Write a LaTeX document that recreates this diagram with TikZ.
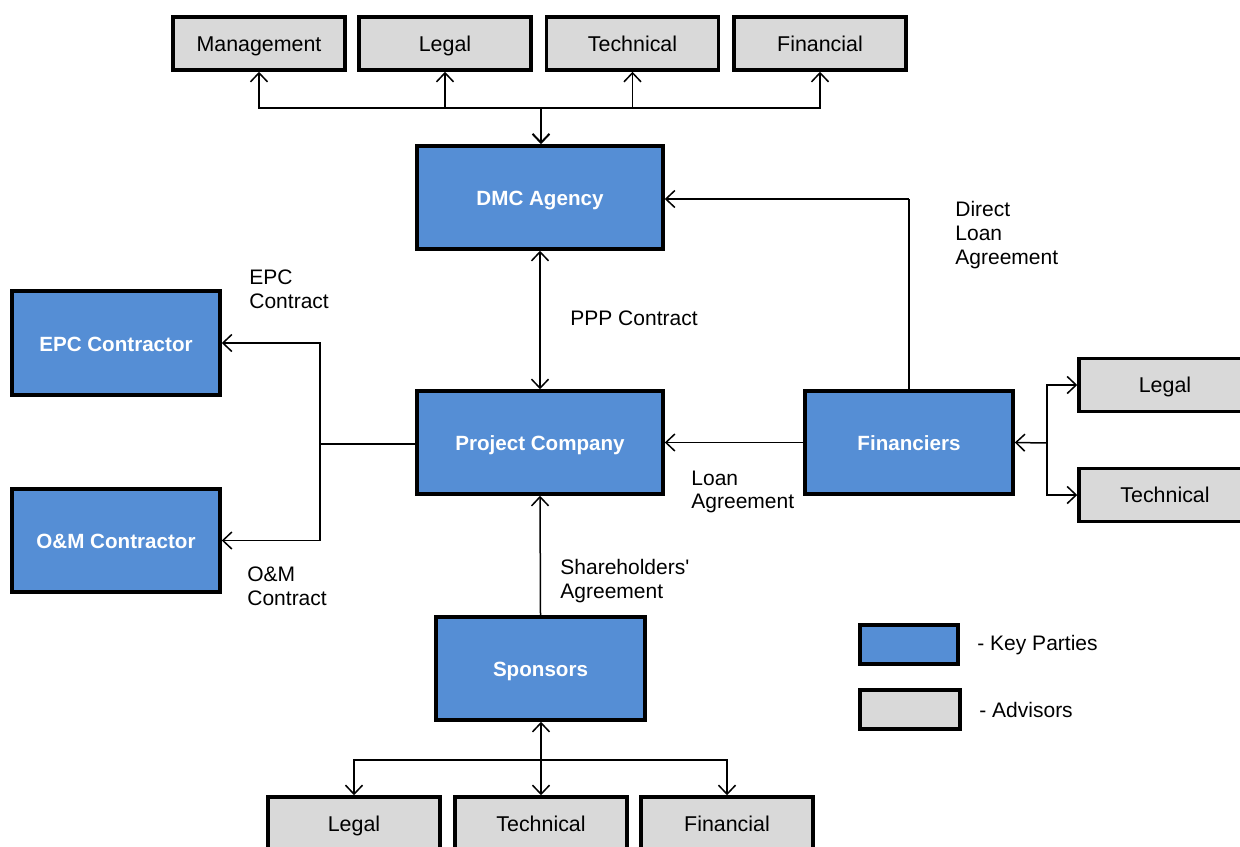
\documentclass[tikz,border=0pt]{standalone}
\usepackage{fontspec}
\setmainfont{Liberation Sans}
\usetikzlibrary{arrows.meta}
\definecolor{keyblue}{HTML}{558ED5}
\definecolor{advgray}{HTML}{D9D9D9}
\begin{document}
\begin{tikzpicture}[x=0.5pt,y=-0.5pt,
  keybox/.style={draw, line width=1.75pt, fill=keyblue, text=white,
    font=\fontsize{10.3}{12}\selectfont\bfseries, inner sep=0pt,
    text height=8.4pt, text depth=0pt},
  advbox/.style={draw, line width=1.75pt, fill=advgray, text=black,
    font=\fontsize{10.7}{12}\selectfont, inner sep=0pt,
    minimum width=86pt, minimum height=26.5pt,
    text height=7.9pt, text depth=0pt},
  ln/.style={line width=0.75pt, draw=black},
  tip/.style={-{Straight Barb[length=4.5pt,width=8.5pt,line width=0.75pt]}},
  tips/.style={{Straight Barb[length=4.5pt,width=8.5pt,line width=0.75pt]}-{Straight Barb[length=4.5pt,width=8.5pt,line width=0.75pt]}},
  lbl/.style={font=\fontsize{10.5}{11.8}\selectfont, align=left, inner sep=0pt, anchor=west}
]
\clip (0,0) rectangle (1240,846);
\fill[white] (0,0) rectangle (1240,846);

% key parties
\node[keybox, minimum width=123pt, minimum height=51.5pt] (dmc) at (540,197.5) {DMC Agency};
\node[keybox, minimum width=123pt, minimum height=51.5pt] (pc) at (540,442.5) {Project Company};
\node[keybox, minimum width=104pt, minimum height=52pt] (epc) at (116,343) {EPC Contractor};
\node[keybox, minimum width=104pt, minimum height=51.5pt] (om) at (116,540.5) {O\&M Contractor};
\node[keybox, minimum width=104pt, minimum height=51.5pt] (fin) at (909,442.5) {Financiers};
\node[keybox, minimum width=104.5pt, minimum height=51.5pt] (sp) at (540.5,668.5) {Sponsors};

% advisors top
\node[advbox] (tmgmt) at (259,43.5) {Management};
\node[advbox] (tlegal) at (445,43.5) {Legal};
\node[advbox] (ttech) at (632.5,43.5) {Technical};
\node[advbox] (tfin) at (820,43.5) {Financial};

% advisors right
\node[advbox] (rlegal) at (1165,385) {Legal};
\node[advbox] (rtech) at (1165,495) {Technical};

% advisors bottom
\node[advbox] (blegal) at (354,823.5) {Legal};
\node[advbox] (btech) at (541,823.5) {Technical};
\node[advbox] (bfin) at (727,823.5) {Financial};

% legend
\node[draw, line width=1.75pt, fill=keyblue, minimum width=49pt, minimum height=19.5pt, inner sep=0pt] (lgkey) at (909,644.5) {};
\node[draw, line width=1.75pt, fill=advgray, minimum width=50pt, minimum height=19.5pt, inner sep=0pt] (lgadv) at (910,709.5) {};
\node[lbl] (lgkeyt) at (977,645) {- Key Parties};
\node[lbl] (lgadvt) at (979,710) {- Advisors};

% top bus
\coordinate (tb) at (541,108);
\draw[ln, tip] (tb) -| (tmgmt.south);
\draw[ln, tip] (tb) -| (tlegal.south);
\draw[ln, tip] (tb) -| (ttech.south);
\draw[ln, tip] (tb) -| (tfin.south);
\draw[line width=1.1pt, -{Straight Barb[length=4.5pt,width=8.5pt,line width=1pt]}] (tb) -- (dmc.north -| tb);

% PPP contract
\draw[ln, tips] (dmc.south) -- (pc.north);
\node[lbl] (ppp) at (570,318) {PPP Contract};

% EPC / O&M bracket
\coordinate (lb) at (320,444);
\draw[ln] (pc.west |- lb) -- (lb);
\draw[ln, tip] (lb) |- (epc.east);
\draw[ln, tip] (lb) |- (om.east);
\node[lbl] (epcl) at (249,289.5) {EPC\\Contract};
\node[lbl] (oml) at (247,586) {O\&M\\Contract};

% loan agreement
\draw[ln, tip] (fin.west) -- (pc.east);
\node[lbl] (loanl) at (691,492) {Loan\\Agreement};

% direct loan agreement
\coordinate (dl) at (909,199);
\draw[ln] (fin.north) -- (dl);
\draw[ln, tip] (dl) -- (dmc.east |- dl);
\node[lbl] (dll) at (955,235) {Direct\\Loan\\Agreement};

% financiers advisors bracket
\coordinate (rb) at (1047,443);
\draw[ln, tip] (rb) -- (fin.east);
\draw[ln, tip] (rb) |- (rlegal.west);
\draw[ln, tip] (rb) |- (rtech.west);

% shareholders
\draw[ln, tip] (sp.north) -- (pc.south);
\node[lbl] (shl) at (560,581) {Shareholders{\addfontfeatures{Ligatures=TeXOff}'}\\Agreement};

% bottom bus
\coordinate (bb) at (541,760);
\draw[ln, tip] (bb) -- (sp.south -| bb);
\draw[ln, tip] (bb) -| (blegal.north);
\draw[ln, tip] (bb) -- (btech.north);
\draw[ln, tip] (bb) -| (bfin.north);
\end{tikzpicture}
\end{document}
